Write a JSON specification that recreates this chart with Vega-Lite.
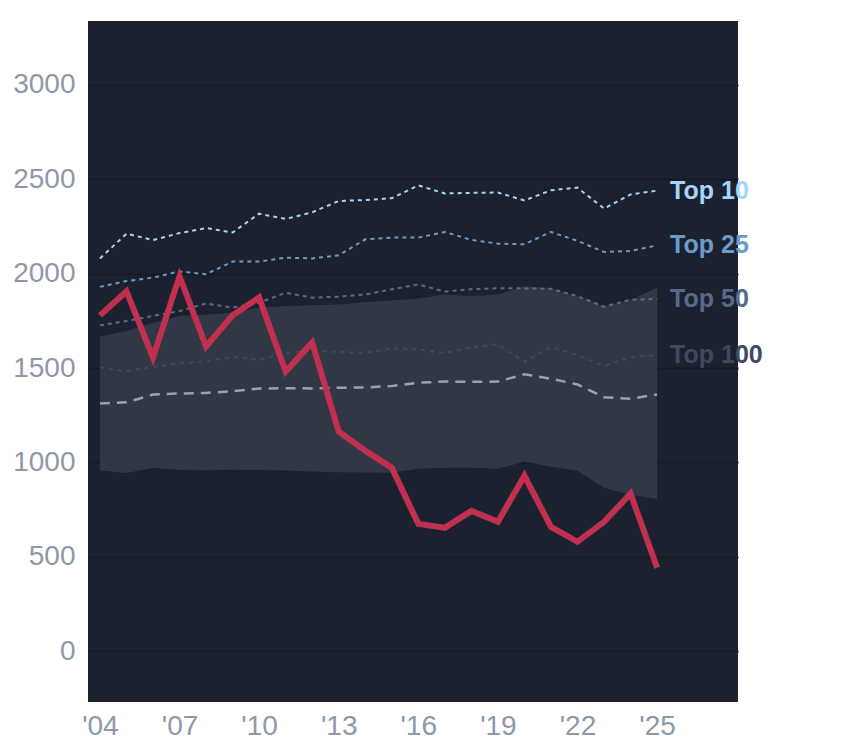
{
  "$schema": "https://vega.github.io/schema/vega-lite/v6.json",
  "width": 650,
  "height": 681,
  "autosize": "none",
  "padding": {"left": 88, "top": 21, "right": 106, "bottom": 45},
  "background": "#ffffff",
  "datasets": {
    "band": [
      {"year": 2004, "low": 957, "high": 1666, "median": 1312},
      {"year": 2005, "low": 944, "high": 1696, "median": 1318},
      {"year": 2006, "low": 970, "high": 1740, "median": 1359},
      {"year": 2007, "low": 960, "high": 1776, "median": 1365},
      {"year": 2008, "low": 958, "high": 1784, "median": 1368},
      {"year": 2009, "low": 961, "high": 1793, "median": 1377},
      {"year": 2010, "low": 960, "high": 1820, "median": 1391},
      {"year": 2011, "low": 957, "high": 1828, "median": 1393},
      {"year": 2012, "low": 952, "high": 1832, "median": 1392},
      {"year": 2013, "low": 947, "high": 1837, "median": 1395},
      {"year": 2014, "low": 946, "high": 1848, "median": 1397},
      {"year": 2015, "low": 945, "high": 1858, "median": 1405},
      {"year": 2016, "low": 966, "high": 1869, "median": 1422},
      {"year": 2017, "low": 972, "high": 1890, "median": 1428},
      {"year": 2018, "low": 972, "high": 1880, "median": 1427},
      {"year": 2019, "low": 966, "high": 1890, "median": 1428},
      {"year": 2020, "low": 1003, "high": 1933, "median": 1467},
      {"year": 2021, "low": 977, "high": 1922, "median": 1443},
      {"year": 2022, "low": 956, "high": 1880, "median": 1413},
      {"year": 2023, "low": 866, "high": 1827, "median": 1345},
      {"year": 2024, "low": 828, "high": 1860, "median": 1337},
      {"year": 2025, "low": 807, "high": 1925, "median": 1360}
    ],
    "tiers": [
      {"year": 2004, "tier": "Top 10", "value": 2080},
      {"year": 2005, "tier": "Top 10", "value": 2212},
      {"year": 2006, "tier": "Top 10", "value": 2178},
      {"year": 2007, "tier": "Top 10", "value": 2215},
      {"year": 2008, "tier": "Top 10", "value": 2242},
      {"year": 2009, "tier": "Top 10", "value": 2218},
      {"year": 2010, "tier": "Top 10", "value": 2318},
      {"year": 2011, "tier": "Top 10", "value": 2290},
      {"year": 2012, "tier": "Top 10", "value": 2325},
      {"year": 2013, "tier": "Top 10", "value": 2385},
      {"year": 2014, "tier": "Top 10", "value": 2390},
      {"year": 2015, "tier": "Top 10", "value": 2400},
      {"year": 2016, "tier": "Top 10", "value": 2468},
      {"year": 2017, "tier": "Top 10", "value": 2425},
      {"year": 2018, "tier": "Top 10", "value": 2428},
      {"year": 2019, "tier": "Top 10", "value": 2430},
      {"year": 2020, "tier": "Top 10", "value": 2388},
      {"year": 2021, "tier": "Top 10", "value": 2442},
      {"year": 2022, "tier": "Top 10", "value": 2456},
      {"year": 2023, "tier": "Top 10", "value": 2345},
      {"year": 2024, "tier": "Top 10", "value": 2420},
      {"year": 2025, "tier": "Top 10", "value": 2440},
      {"year": 2004, "tier": "Top 25", "value": 1930},
      {"year": 2005, "tier": "Top 25", "value": 1961},
      {"year": 2006, "tier": "Top 25", "value": 1979},
      {"year": 2007, "tier": "Top 25", "value": 2012},
      {"year": 2008, "tier": "Top 25", "value": 1997},
      {"year": 2009, "tier": "Top 25", "value": 2064},
      {"year": 2010, "tier": "Top 25", "value": 2064},
      {"year": 2011, "tier": "Top 25", "value": 2085},
      {"year": 2012, "tier": "Top 25", "value": 2081},
      {"year": 2013, "tier": "Top 25", "value": 2097},
      {"year": 2014, "tier": "Top 25", "value": 2182},
      {"year": 2015, "tier": "Top 25", "value": 2191},
      {"year": 2016, "tier": "Top 25", "value": 2191},
      {"year": 2017, "tier": "Top 25", "value": 2221},
      {"year": 2018, "tier": "Top 25", "value": 2179},
      {"year": 2019, "tier": "Top 25", "value": 2159},
      {"year": 2020, "tier": "Top 25", "value": 2156},
      {"year": 2021, "tier": "Top 25", "value": 2221},
      {"year": 2022, "tier": "Top 25", "value": 2174},
      {"year": 2023, "tier": "Top 25", "value": 2115},
      {"year": 2024, "tier": "Top 25", "value": 2120},
      {"year": 2025, "tier": "Top 25", "value": 2150},
      {"year": 2004, "tier": "Top 50", "value": 1726},
      {"year": 2005, "tier": "Top 50", "value": 1749},
      {"year": 2006, "tier": "Top 50", "value": 1776},
      {"year": 2007, "tier": "Top 50", "value": 1802},
      {"year": 2008, "tier": "Top 50", "value": 1842},
      {"year": 2009, "tier": "Top 50", "value": 1820},
      {"year": 2010, "tier": "Top 50", "value": 1846},
      {"year": 2011, "tier": "Top 50", "value": 1899},
      {"year": 2012, "tier": "Top 50", "value": 1873},
      {"year": 2013, "tier": "Top 50", "value": 1878},
      {"year": 2014, "tier": "Top 50", "value": 1890},
      {"year": 2015, "tier": "Top 50", "value": 1917},
      {"year": 2016, "tier": "Top 50", "value": 1943},
      {"year": 2017, "tier": "Top 50", "value": 1905},
      {"year": 2018, "tier": "Top 50", "value": 1918},
      {"year": 2019, "tier": "Top 50", "value": 1923},
      {"year": 2020, "tier": "Top 50", "value": 1922},
      {"year": 2021, "tier": "Top 50", "value": 1920},
      {"year": 2022, "tier": "Top 50", "value": 1881},
      {"year": 2023, "tier": "Top 50", "value": 1825},
      {"year": 2024, "tier": "Top 50", "value": 1862},
      {"year": 2025, "tier": "Top 50", "value": 1866},
      {"year": 2004, "tier": "Top 100", "value": 1501},
      {"year": 2005, "tier": "Top 100", "value": 1483},
      {"year": 2006, "tier": "Top 100", "value": 1506},
      {"year": 2007, "tier": "Top 100", "value": 1524},
      {"year": 2008, "tier": "Top 100", "value": 1536},
      {"year": 2009, "tier": "Top 100", "value": 1559},
      {"year": 2010, "tier": "Top 100", "value": 1545},
      {"year": 2011, "tier": "Top 100", "value": 1581},
      {"year": 2012, "tier": "Top 100", "value": 1592},
      {"year": 2013, "tier": "Top 100", "value": 1586},
      {"year": 2014, "tier": "Top 100", "value": 1580},
      {"year": 2015, "tier": "Top 100", "value": 1604},
      {"year": 2016, "tier": "Top 100", "value": 1598},
      {"year": 2017, "tier": "Top 100", "value": 1580},
      {"year": 2018, "tier": "Top 100", "value": 1610},
      {"year": 2019, "tier": "Top 100", "value": 1625},
      {"year": 2020, "tier": "Top 100", "value": 1532},
      {"year": 2021, "tier": "Top 100", "value": 1612},
      {"year": 2022, "tier": "Top 100", "value": 1568},
      {"year": 2023, "tier": "Top 100", "value": 1511},
      {"year": 2024, "tier": "Top 100", "value": 1558},
      {"year": 2025, "tier": "Top 100", "value": 1568}
    ],
    "player": [
      {"year": 2004, "value": 1779},
      {"year": 2005, "value": 1906},
      {"year": 2006, "value": 1556},
      {"year": 2007, "value": 1986},
      {"year": 2008, "value": 1614},
      {"year": 2009, "value": 1779},
      {"year": 2010, "value": 1874},
      {"year": 2011, "value": 1481},
      {"year": 2012, "value": 1635},
      {"year": 2013, "value": 1163},
      {"year": 2014, "value": 1062},
      {"year": 2015, "value": 972},
      {"year": 2016, "value": 674},
      {"year": 2017, "value": 653},
      {"year": 2018, "value": 743},
      {"year": 2019, "value": 685},
      {"year": 2020, "value": 929},
      {"year": 2021, "value": 658},
      {"year": 2022, "value": 579},
      {"year": 2023, "value": 685},
      {"year": 2024, "value": 834},
      {"year": 2025, "value": 441}
    ]
  },
  "layer": [
    {
      "data": {"name": "band"},
      "mark": {"type": "area", "color": "#323746", "opacity": 1},
      "encoding": {
        "x": {
          "field": "year",
          "type": "quantitative",
          "scale": {"domain": [2003.55, 2028.05], "nice": false, "zero": false},
          "axis": {
            "values": [2004, 2007, 2010, 2013, 2016, 2019, 2022, 2025],
            "labelExpr": "\"'\" + substring(toString(datum.value), 2)",
            "title": null,
            "grid": false,
            "domain": false,
            "ticks": false,
            "labelPadding": 10,
            "labelFontSize": 28
          }
        },
        "y": {
          "field": "low",
          "type": "quantitative",
          "scale": {"domain": [-270, 3339], "nice": false, "zero": false},
          "axis": {
            "values": [0, 500, 1000, 1500, 2000, 2500, 3000],
            "format": "d",
            "title": null,
            "domain": false,
            "ticks": false,
            "labelPadding": 13,
            "labelFontSize": 28
          }
        },
        "y2": {"field": "high"}
      }
    },
    {
      "data": {"name": "band"},
      "mark": {"type": "line", "color": "#9ba0aa", "strokeWidth": 2.5, "strokeDash": [10, 7]},
      "encoding": {
        "x": {"field": "year", "type": "quantitative"},
        "y": {"field": "median", "type": "quantitative"}
      }
    },
    {
      "data": {"name": "tiers"},
      "mark": {"type": "line", "strokeWidth": 2},
      "encoding": {
        "x": {"field": "year", "type": "quantitative"},
        "y": {"field": "value", "type": "quantitative"},
        "detail": {"field": "tier"},
        "color": {
          "field": "tier",
          "type": "nominal",
          "scale": {
            "domain": ["Top 10", "Top 25", "Top 50", "Top 100"],
            "range": ["#a6d4fa", "#6c9bc6", "#58698a", "#3f4a62"]
          },
          "legend": null
        },
        "strokeDash": {
          "field": "tier",
          "type": "nominal",
          "scale": {
            "domain": ["Top 10", "Top 25", "Top 50", "Top 100"],
            "range": [[4, 4], [4, 4], [4, 4], [4, 5]]
          },
          "legend": null
        }
      }
    },
    {
      "data": {"name": "tiers"},
      "transform": [{"filter": "datum.year == 2025"}],
      "mark": {
        "type": "text",
        "align": "left",
        "baseline": "middle",
        "dx": 13,
        "fontSize": 25,
        "fontWeight": "bold",
        "font": "Liberation Sans"
      },
      "encoding": {
        "x": {"field": "year", "type": "quantitative"},
        "y": {"field": "value", "type": "quantitative"},
        "text": {"field": "tier"},
        "color": {"field": "tier", "type": "nominal", "legend": null}
      }
    },
    {
      "data": {"name": "player"},
      "mark": {"type": "line", "color": "#c2304f", "strokeWidth": 6, "strokeJoin": "miter"},
      "encoding": {
        "x": {"field": "year", "type": "quantitative"},
        "y": {"field": "value", "type": "quantitative"}
      }
    }
  ],
  "config": {
    "view": {"fill": "#1c2130", "stroke": null},
    "font": "Liberation Sans",
    "axis": {
      "labelColor": "#8e98a8",
      "labelFont": "Liberation Sans",
      "gridColor": "#161a25",
      "gridWidth": 2
    }
  }
}
